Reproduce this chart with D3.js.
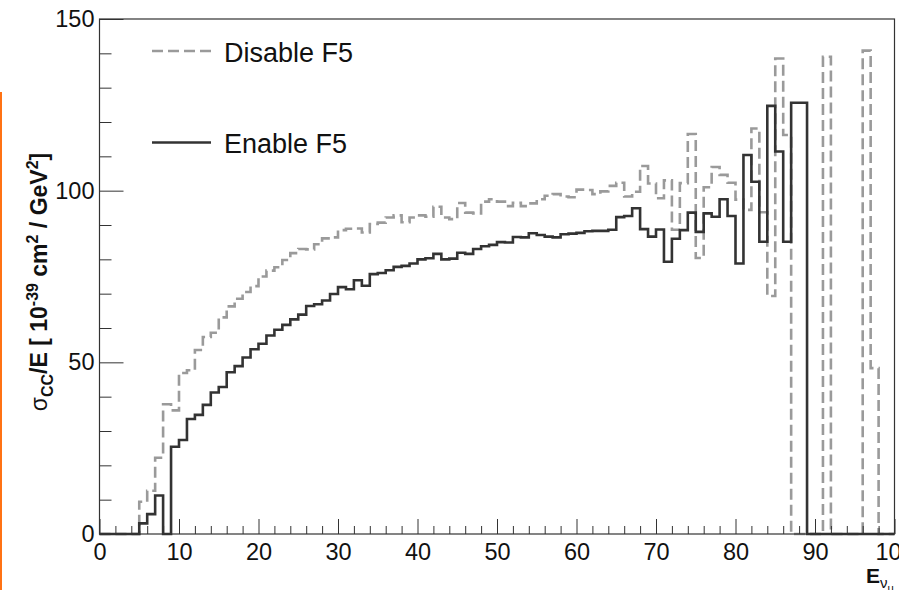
<!DOCTYPE html>
<html>
<head>
<meta charset="utf-8">
<script src="https://cdnjs.cloudflare.com/ajax/libs/d3/7.8.5/d3.min.js"></script>
<style>
body { margin: 0; background: #fff; }
svg { display: block; font-family: "Liberation Sans", Arial, Helvetica, sans-serif; }
</style>
</head>
<body>
<svg id="chart"></svg>
<script>
// histogram binning: 100 bins from 0 to 100
var binLow = 0, binHigh = 100, nBins = 100;

// sigma_CC / E per bin, F5 enabled (solid) and disabled (dashed)
var enableF5 = [
  0, 0, 0, 0, 0, 3.1, 5.8, 11.2, 0, 25.4,
  27.4, 33.5, 34.7, 37.6, 41.2, 42.8, 47.1, 48.9, 51.4, 53.8,
  55.4, 57.8, 59.5, 60.9, 62.5, 63.9, 66.4, 66.9, 68.0, 69.9,
  71.9, 71.3, 73.9, 72.3, 75.7, 76.0, 76.8, 77.8, 78.1, 78.8,
  80.0, 80.3, 81.6, 80.0, 80.2, 81.9, 81.6, 83.0, 83.8, 84.2,
  85.0, 84.9, 86.5, 86.4, 87.6, 87.1, 86.6, 86.4, 87.3, 87.5,
  87.7, 88.2, 88.3, 88.3, 88.6, 92.3, 92.6, 94.9, 88.8, 86.6,
  88.7, 79.3, 86.0, 88.5, 93.6, 88.0, 93.4, 92.4, 97.5, 92.6,
  78.8, 110.4, 102.6, 85.1, 124.7, 111.4, 85.1, 125.6, 125.6, 0,
  0, 0, 0, 0, 0, 0, 0, 0, 0, 0
];

var disableF5 = [
  0, 0, 0, 0, 0, 9.4, 12.6, 22.2, 37.8, 36.0,
  46.9, 47.7, 53.6, 57.4, 58.6, 63.1, 66.3, 68.5, 70.5, 72.2,
  75.0, 76.7, 77.7, 79.8, 81.8, 83.0, 82.9, 84.4, 86.1, 86.4,
  88.5, 88.9, 89.0, 87.8, 90.3, 90.7, 92.2, 92.8, 90.8, 92.2,
  92.8, 92.4, 95.3, 92.2, 91.7, 96.4, 93.6, 93.4, 96.8, 97.5,
  96.8, 95.5, 96.5, 95.5, 96.3, 97.5, 98.5, 99.0, 98.3, 98.1,
  100.3, 100.2, 99.0, 99.8, 101.4, 102.3, 98.3, 99.7, 107.2, 102.1,
  97.8, 103.0, 88.6, 102.2, 116.5, 80.4, 101.0, 106.9, 104.6, 102.3,
  97.4, 94.4, 118.1, 93.7, 69.3, 138.5, 116.2, 0, 0, 0,
  0, 139.0, 0, 0, 0, 0, 140.8, 48.3, 0, 0
];

var xMajor = [0, 10, 20, 30, 40, 50, 60, 70, 80, 90, 100];
var yMajor = [0, 50, 100, 150];
var legendLabels = ["Disable F5", "Enable F5"];

var WIDTH = 899, HEIGHT = 590;
var margin = {left: 99.5, right: 4.5, top: 19, bottom: 56};

var svg = d3.select('#chart')
  .attr('width', WIDTH)
  .attr('height', HEIGHT);

// thin orange strip on the left edge of the picture
svg.append('rect')
  .attr('x', 0).attr('y', 92)
  .attr('width', 2).attr('height', HEIGHT - 92)
  .attr('fill', '#ff7214');

var xScale = d3.scaleLinear()
  .domain([binLow, binHigh])
  .range([margin.left, WIDTH - margin.right]);
var yScale = d3.scaleLinear()
  .domain([0, 150])
  .range([HEIGHT - margin.bottom + 0, margin.top]);
yScale.range([534, 19]);

var binWidth = (binHigh - binLow) / nBins;

// step outline like ROOT's histogram drawing
function stepPoints(values) {
  var pts = [];
  values.forEach(function(v, i) {
    var lo = binLow + i * binWidth;
    pts.push([lo, v]);
    pts.push([lo + binWidth, v]);
  });
  return pts;
}

var line = d3.line()
  .x(function(d) { return xScale(d[0]); })
  .y(function(d) { return yScale(d[1]); });

var plot = svg.append('g');

plot.append('path')
  .datum(stepPoints(disableF5))
  .attr('d', line)
  .attr('fill', 'none')
  .attr('stroke', '#9a9a9a')
  .attr('stroke-width', 2.6)
  .attr('stroke-dasharray', '11,5');

plot.append('path')
  .datum(stepPoints(enableF5))
  .attr('d', line)
  .attr('fill', 'none')
  .attr('stroke', '#333')
  .attr('stroke-width', 2.6);

// axes: ticks point into the frame
var xMinor = d3.range(binLow, binHigh + 0.001, 2).filter(function(v) { return xMajor.indexOf(v) < 0; });
var yMinor = d3.range(0, 150.001, 10).filter(function(v) { return yMajor.indexOf(v) < 0; });

var bottomAxis = d3.axisBottom(xScale).tickValues(xMajor).tickSize(-15).tickSizeOuter(0).tickPadding(9).tickFormat(d3.format('d'));
var bottomMinor = d3.axisBottom(xScale).tickValues(xMinor).tickSize(-8).tickSizeOuter(0).tickFormat('');
var leftAxis = d3.axisLeft(yScale).tickValues(yMajor).tickSize(-24).tickSizeOuter(0).tickPadding(5).tickFormat(d3.format('d'));
var leftMinor = d3.axisLeft(yScale).tickValues(yMinor).tickSize(-12).tickSizeOuter(0).tickFormat('');

function styleAxis(g) {
  g.selectAll('.domain').remove();
  g.selectAll('line').attr('stroke', '#333').attr('stroke-width', 1);
  g.selectAll('text').attr('fill', '#111').style('font-size', '23.5px').attr('font-family', null);
}

svg.append('g').attr('transform', 'translate(0,534)').call(bottomAxis).call(styleAxis);
svg.append('g').attr('transform', 'translate(0,534)').call(bottomMinor).call(styleAxis);
svg.append('g').attr('transform', 'translate(' + margin.left + ',0)').call(leftAxis).call(styleAxis);
svg.append('g').attr('transform', 'translate(' + margin.left + ',0)').call(leftMinor).call(styleAxis);

// frame
svg.append('rect')
  .attr('x', xScale(binLow)).attr('y', yScale(150))
  .attr('width', xScale(binHigh) - xScale(binLow))
  .attr('height', yScale(0) - yScale(150))
  .attr('fill', 'none')
  .attr('stroke', '#333')
  .attr('stroke-width', 1.2);

// legend
var legend = svg.append('g');
var legendY = [51, 142.5];
legendLabels.forEach(function(lab, i) {
  legend.append('line')
    .attr('x1', 152).attr('x2', 211)
    .attr('y1', legendY[i]).attr('y2', legendY[i])
    .attr('stroke', i == 0 ? '#9a9a9a' : '#333')
    .attr('stroke-width', 2.6)
    .attr('stroke-dasharray', i == 0 ? '11,5' : null);
  legend.append('text')
    .attr('x', 224).attr('y', legendY[i] + 10.5)
    .style('font-size', '27px')
    .attr('fill', '#111')
    .text(lab);
});

// y title, rotated
var yt = svg.append('text')
  .attr('transform', 'translate(47,282) rotate(-90)')
  .attr('text-anchor', 'middle')
  .style('font-size', '23px')
  .style('font-weight', 'bold')
  .attr('fill', '#111');
yt.append('tspan').style('font-weight', 'normal').text('σ');
yt.append('tspan').attr('dy', 6).style('font-size', '16px').text('CC');
yt.append('tspan').attr('dy', -6).text('/E [ 10');
yt.append('tspan').attr('dy', -9).style('font-size', '16px').text('-39');
yt.append('tspan').attr('dy', 9).text(' cm');
yt.append('tspan').attr('dy', -9).style('font-size', '16px').text('2');
yt.append('tspan').attr('dy', 9).text(' / GeV');
yt.append('tspan').attr('dy', -9).style('font-size', '16px').text('2');
yt.append('tspan').attr('dy', 9).text(']');

// x title, cut at the right edge
var xt = svg.append('text')
  .attr('x', 866).attr('y', 583)
  .style('font-size', '21px')
  .style('font-weight', 'bold')
  .attr('fill', '#111');
xt.append('tspan').text('E');
xt.append('tspan').attr('dy', 5).style('font-size', '15px').style('font-weight', 'normal').text('ν');
xt.append('tspan').attr('dy', 4).style('font-size', '11px').style('font-weight', 'normal').text('μ');
</script>
</body>
</html>
